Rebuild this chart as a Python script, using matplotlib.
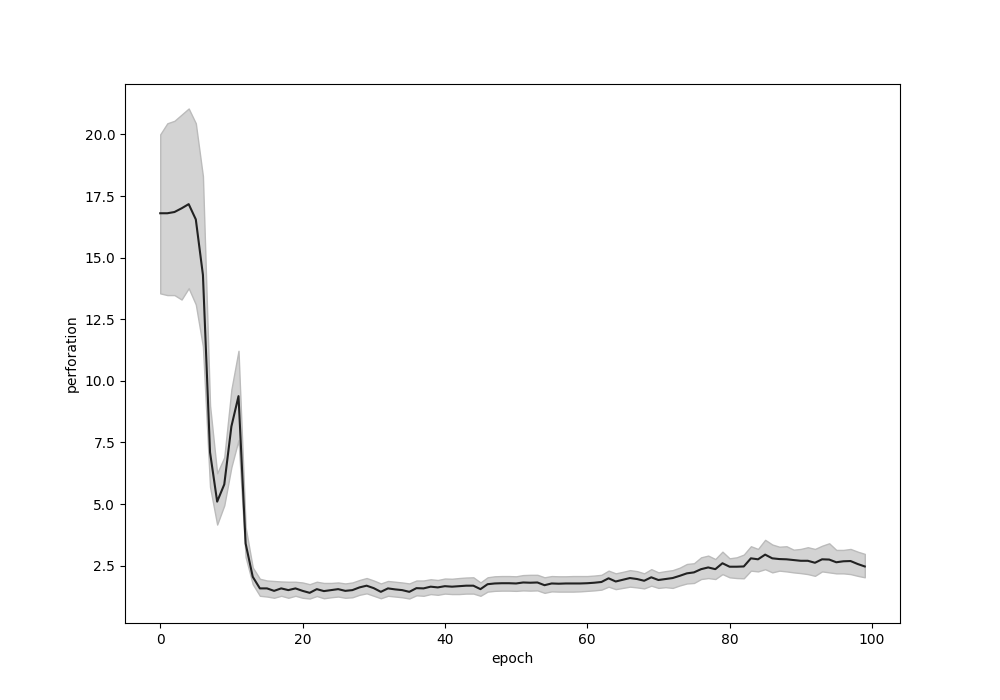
import numpy as np
import matplotlib
matplotlib.use("Agg")
import matplotlib.pyplot as plt

# mean perforation per epoch, with the band limits
epochs = np.arange(100)

mean = [16.8, 16.8, 16.85, 17.0, 17.17, 16.55, 14.3, 7.1, 5.1, 5.8,
        8.15, 9.38, 3.4, 2.05, 1.58, 1.58, 1.48, 1.58, 1.51, 1.58,
        1.48, 1.40, 1.55, 1.47, 1.51, 1.55, 1.48, 1.51, 1.62, 1.69,
        1.59, 1.44, 1.58, 1.54, 1.51, 1.44, 1.59, 1.58, 1.65, 1.62,
        1.67, 1.65, 1.67, 1.69, 1.69, 1.55, 1.75, 1.78, 1.79, 1.79,
        1.78, 1.82, 1.81, 1.82, 1.71, 1.78, 1.77, 1.78, 1.78, 1.78,
        1.79, 1.81, 1.84, 1.99, 1.86, 1.93, 2.00, 1.96, 1.89, 2.03,
        1.92, 1.96, 2.00, 2.09, 2.19, 2.23, 2.36, 2.43, 2.36, 2.60,
        2.46, 2.46, 2.47, 2.80, 2.76, 2.95, 2.80, 2.77, 2.76, 2.73,
        2.70, 2.70, 2.62, 2.76, 2.75, 2.64, 2.68, 2.69, 2.57, 2.47]

upper = [20.0, 20.45, 20.55, 20.8, 21.05, 20.45, 18.3, 9.0, 6.25, 6.9,
         9.65, 11.22, 4.06, 2.43, 1.97, 1.90, 1.88, 1.86, 1.85, 1.85,
         1.82, 1.75, 1.85, 1.80, 1.80, 1.82, 1.78, 1.82, 1.92, 2.00,
         1.90, 1.78, 1.88, 1.85, 1.82, 1.78, 1.90, 1.90, 1.95, 1.92,
         1.98, 1.97, 2.00, 2.02, 2.03, 1.82, 2.03, 2.07, 2.08, 2.08,
         2.07, 2.12, 2.13, 2.13, 2.03, 2.08, 2.07, 2.07, 2.08, 2.08,
         2.08, 2.10, 2.13, 2.30, 2.19, 2.25, 2.32, 2.28, 2.19, 2.36,
         2.23, 2.28, 2.32, 2.42, 2.57, 2.60, 2.84, 2.91, 2.77, 3.07,
         2.80, 2.84, 2.95, 3.29, 3.18, 3.55, 3.36, 3.27, 3.29, 3.15,
         3.18, 3.25, 3.18, 3.31, 3.41, 3.14, 3.14, 3.18, 3.07, 2.98]

lower = [13.55, 13.48, 13.48, 13.3, 13.76, 13.1, 11.4, 5.7, 4.17, 4.95,
         6.5, 7.6, 2.85, 1.75, 1.28, 1.25, 1.20, 1.28, 1.20, 1.28,
         1.20, 1.17, 1.27, 1.18, 1.22, 1.25, 1.20, 1.22, 1.32, 1.38,
         1.28, 1.18, 1.28, 1.25, 1.22, 1.17, 1.30, 1.28, 1.35, 1.32,
         1.37, 1.35, 1.35, 1.37, 1.37, 1.28, 1.45, 1.48, 1.49, 1.49,
         1.48, 1.50, 1.49, 1.50, 1.40, 1.46, 1.45, 1.45, 1.45, 1.46,
         1.48, 1.50, 1.53, 1.65, 1.55, 1.60, 1.65, 1.62, 1.58, 1.69,
         1.60, 1.63, 1.60, 1.70, 1.78, 1.80, 1.96, 2.00, 1.96, 2.16,
         2.03, 2.00, 1.99, 2.30, 2.27, 2.36, 2.23, 2.30, 2.27, 2.23,
         2.20, 2.16, 2.09, 2.27, 2.23, 2.19, 2.19, 2.16, 2.09, 2.03]

fig, ax = plt.subplots(figsize=(10, 7), dpi=100)

# shaded band and mean line
ax.fill_between(epochs, lower, upper, facecolor='#d3d3d3', edgecolor='#bbbbbb', linewidth=1)
ax.plot(epochs, mean, color='#222222', linewidth=1.5)

ax.set_xlabel('epoch')
ax.set_ylabel('perforation')

fig.savefig('out.png')
